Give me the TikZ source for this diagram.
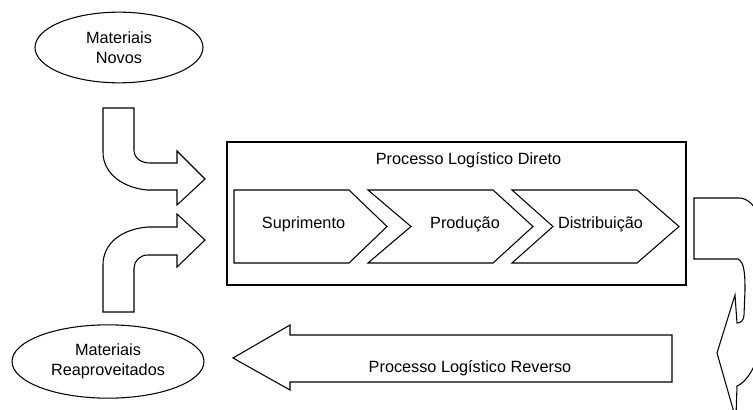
\documentclass[tikz,border=0pt]{standalone}
\usepackage{fontspec}
\setmainfont{Liberation Sans}
\usepackage{tikz}
\usetikzlibrary{shapes.geometric}

\begin{document}
\begin{tikzpicture}[
    x=0.75pt, y=-0.75pt,
    every node/.style={font=\fontsize{12.2}{15}\selectfont},
    material/.style={ellipse, draw, line width=0.8pt, inner sep=0pt, align=center},
    caixa/.style={rectangle, draw, line width=0.8pt, inner sep=0pt},
    rotulo/.style={draw=none, fill=none, inner sep=0pt},
    seta/.style={draw, line width=0.8pt, line join=miter, fill=white}
]
\useasboundingbox (0,0) rectangle (753,410);
\clip (0,0) rectangle (753,410);

% Materiais
\node[material, minimum width=126pt, minimum height=53pt] (novos) at (119,47.5) {Materiais\\Novos};
\node[material, minimum width=144pt, minimum height=55pt] (reapr) at (108,361.5) {Materiais\\Reaproveitados};

% Processo direto
\node[caixa, minimum width=344.25pt, minimum height=107.25pt] (direto) at (456.5,213.5) {};
\node[rotulo] (titulo) at (468.5,160) {Processo Log\'istico Direto};

\draw[seta] (234,190) -- (349,190) -- (387,226.5) -- (349,263) -- (234,263) -- cycle;
\draw[seta] (368,190) -- (493,190) -- (533,226.5) -- (493,263) -- (368,263) -- (411,226.5) -- cycle;
\draw[seta] (512,190) -- (637,190) -- (679,226.5) -- (637,263) -- (512,263) -- (553,226.5) -- cycle;
\node[rotulo] (supr) at (303.5,224) {Suprimento};
\node[rotulo] (prod) at (465,224) {Produ\c{c}\~ao};
\node[rotulo] (dist) at (600.5,224) {Distribui\c{c}\~ao};

% Setas de entrada
\draw[seta] (103,108) -- (134,108) -- (134,150) .. controls (134,158) and (141,163) .. (150,163)
    -- (177,163) -- (177,151) -- (205,179) -- (177,205) -- (177,190) -- (147,190)
    .. controls (125,188) and (103,175) .. (103,152) -- cycle;
\draw[seta] (103,312) -- (134,312) -- (134,268) .. controls (134,261) and (140,255) .. (148,255)
    -- (177,255) -- (177,267) -- (205,240) -- (177,214) -- (177,227) -- (148,227)
    .. controls (122,229) and (103,243) .. (103,265) -- cycle;

% Retorno
\draw[seta] (735,416) -- (717,353) -- (735,295) -- (737,323) .. controls (741,323) and (744,320) .. (744,315)
    -- (745,290) .. controls (745,272) and (744,262) .. (738,259) -- (694,259) -- (694,198) -- (739,198)
    .. controls (748,198) and (756,206) .. (762,222) -- (800,230) -- (800,350) -- (762,345)
    .. controls (755,370) and (745,383) .. (737,386) -- (736,416) -- cycle;

% Processo reverso
\draw[seta] (672,335) -- (290,335) -- (290,325) -- (233,358) -- (290,390) -- (290,382) -- (672,382) -- cycle;
\node[rotulo] (reverso) at (470,368) {Processo Log\'istico Reverso};

\end{tikzpicture}
\end{document}
